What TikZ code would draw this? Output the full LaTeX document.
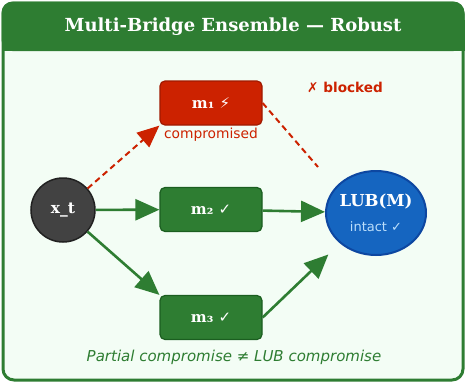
\documentclass[tikz,border=0pt]{standalone}
\usepackage{fontspec}
\setmainfont{DejaVu Serif}
\setsansfont{DejaVu Sans}
\usetikzlibrary{arrows.meta,shapes.geometric}
\definecolor{frame}{HTML}{2E7D32}
\definecolor{paper}{HTML}{F3FDF5}
\definecolor{okfill}{HTML}{2E7D32}
\definecolor{okline}{HTML}{1B5E20}
\definecolor{badfill}{HTML}{CC2200}
\definecolor{badline}{HTML}{A01A00}
\definecolor{lubfill}{HTML}{1565C0}
\definecolor{lubline}{HTML}{0D47A1}
\definecolor{lubtext}{HTML}{BBDEFB}
\definecolor{srcfill}{HTML}{424242}
\definecolor{srcline}{HTML}{212121}
\begin{document}
\begin{tikzpicture}[x=1pt,y=-1pt,
    bridge/.style={draw, rounded corners=5pt, line width=1.2pt, minimum width=102pt,
        minimum height=44pt, text=white, font=\bfseries\fontsize{15}{17}\selectfont},
    okbox/.style={bridge, fill=okfill, draw=okline},
    badbox/.style={bridge, fill=badfill, draw=badline},
    flow/.style={-{Triangle[length=24pt,width=21pt]}, line width=2.6pt, draw=okfill},
    cut/.style={line width=2pt, draw=badfill, dash pattern=on 6pt off 4pt}]
    \useasboundingbox (0,0) rectangle (466,383);
    % frame and header
    \draw[frame, fill=paper, line width=3pt, rounded corners=11pt] (3,3) rectangle (463,380);
    \fill[frame, rounded corners=11pt] (1.5,1.5) -- (1.5,51) -- (464.5,51) -- (464.5,1.5) -- cycle;
    \fill[frame] (1.5,20) rectangle (464.5,51);
    \node[text=white, font=\bfseries\fontsize{18}{21}\selectfont](TITLE) at (233,27) {Multi-Bridge Ensemble — Robust};
    % nodes
    \node[circle, minimum size=64pt, fill=srcfill, draw=srcline, line width=1.5pt, text=white,
        font=\bfseries\fontsize{15.5}{17}\selectfont](XT) at (63,210) {x\_t};
    \node[badbox](M1) at (211,103) {m₁ {\sffamily\mdseries ⚡}};
    \node[okbox](M2) at (211,209.5) {m₂ {\sffamily ✓}};
    \node[okbox](M3) at (211,317.5) {m₃ {\sffamily ✓}};
    \node[ellipse, minimum width=100pt, minimum height=84pt, fill=lubfill, draw=lubline,
        line width=2pt](LUB) at (376,213) {};
    \node[text=white, font=\bfseries\fontsize{16.5}{18}\selectfont](LUBNAME) at (376,201.5) {LUB(M)};
    \node[text=lubtext, font=\sffamily\fontsize{13}{15}\selectfont](LUBSTATE) at (376,227) {intact ✓};
    \node[text=badfill, font=\sffamily\fontsize{13.8}{16}\selectfont](CMP) at (211,135) {compromised};
    \node[text=badfill, font=\sffamily\bfseries\fontsize{13.6}{16}\selectfont](BLK) at (345,87) {✗ blocked};
    \node[text=frame, font=\sffamily\itshape\fontsize{15}{18}\selectfont](NOTE) at (234,357) {Partial compromise ≠ LUB compromise};
    \coordinate (STOP) at (318,167);
    % connectors
    \draw[cut, -{Triangle[length=22pt,width=19pt]}] (XT) -- (M1.south west);
    \draw[cut] (M1.east) -- (STOP);
    \draw[flow] (XT) -- (M2);
    \draw[flow] (XT) -- (M3.north west);
    \draw[flow] (M2) -- (LUB);
    \draw[flow, shorten >=16pt] (M3.east) -- (LUB.south west);
\end{tikzpicture}
\end{document}
